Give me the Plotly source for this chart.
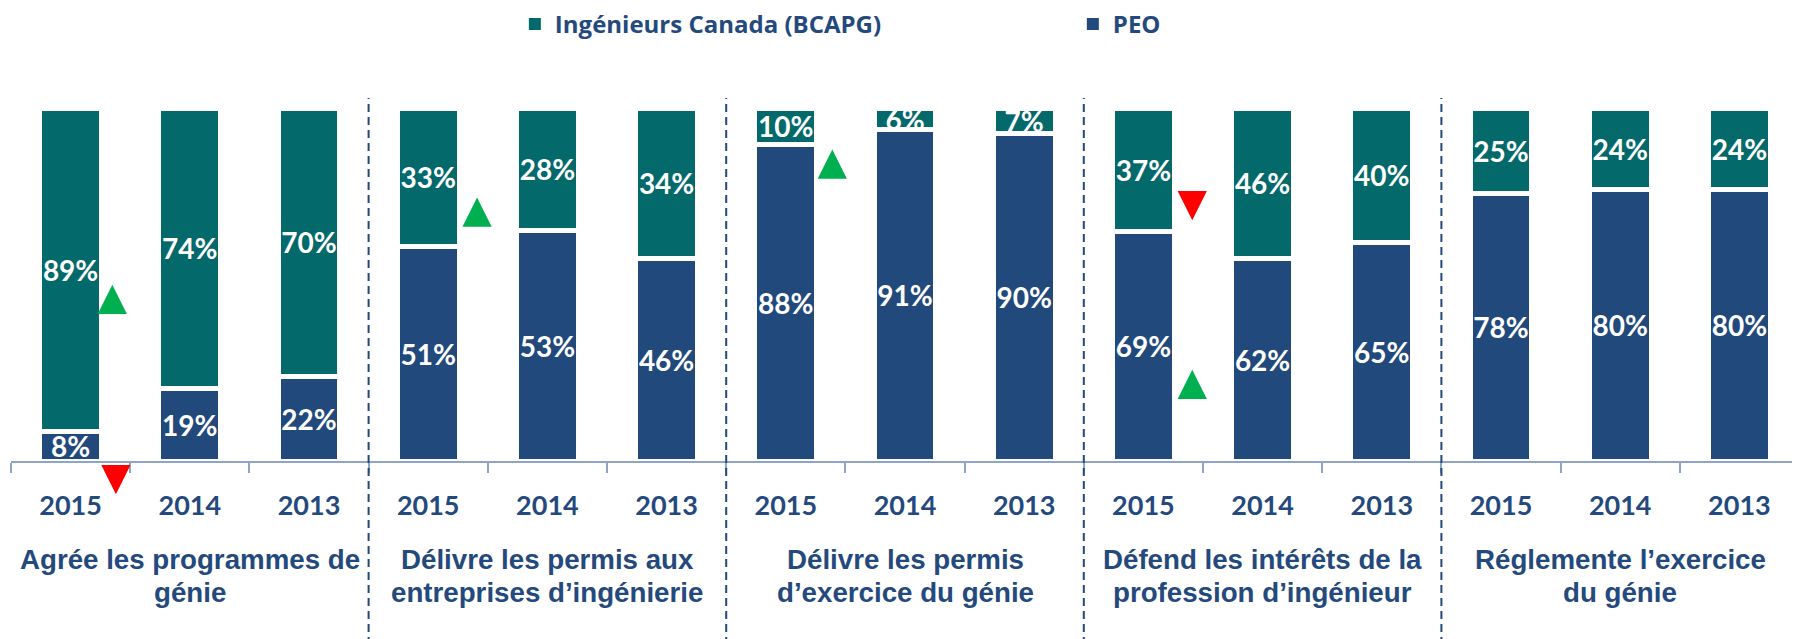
import plotly.graph_objects as go

# ---- data ----
years = ["2015", "2014", "2013"] * 5
groups = [
    ["Agrée les programmes de", "génie"],
    ["Délivre les permis aux", "entreprises d’ingénierie"],
    ["Délivre les permis", "d’exercice du génie"],
    ["Défend les intérêts de la", "profession d’ingénieur"],
    ["Réglemente l’exercice", "du génie"],
]
peo = [8, 19, 22, 51, 53, 46, 88, 91, 90, 69, 62, 65, 78, 80, 80]
ic = [89, 74, 70, 33, 28, 34, 10, 6, 7, 37, 46, 40, 25, 24, 24]

# change indicators (x in bar units, y in % of bar height)
trend_x = [0.35, 0.38, 3.41, 6.39, 9.41, 9.41]
trend_y = [45.6, -5.1, 70.3, 83.9, 72.5, 21.5]
trend_dir = ["up", "down", "up", "up", "down", "up"]

# ---- style ----
TEAL = "#03696A"
BLUE = "#21497B"
TXT = "#24497C"
AXIS = "#8EA5C7"
NUM_FONT = "Lato"
xs = list(range(len(years)))

series = [("PEO", peo, BLUE), ("Ingénieurs Canada (BCAPG)", ic, TEAL)]

fig = go.Figure()
for name, vals, col in series:
    fig.add_trace(go.Bar(
        x=xs, y=vals, name=name, showlegend=False,
        marker=dict(color=col, line=dict(color="white", width=5)),
        text=[f"{v}%" for v in vals],
        textposition="inside", insidetextanchor="middle", textangle=0,
        textfont=dict(family=NUM_FONT, size=28, color="white", weight="bold"),
        constraintext="none",
    ))
# legend entries (square swatches)
for name, vals, col in series:
    fig.add_trace(go.Scatter(x=[None], y=[None], mode="markers", name=name,
                             marker=dict(symbol="square", size=12, color=col)))

# page has an 8px body margin: figure is sized to fit the 1800x639 window
W, Hfig = 1792, 631
fig.update_layout(
    barmode="stack", barnorm="percent", bargap=0.48,
    width=W, height=Hfig,
    margin=dict(l=2.7, r=1, t=100, b=178, autoexpand=False),
    paper_bgcolor="white", plot_bgcolor="white",
    uniformtext=dict(minsize=28, mode="show"),
    showlegend=True,
    legend=dict(orientation="h", x=0.2818, xanchor="left", y=1 + 106 / 353, yanchor="top",
                traceorder="reversed", entrywidth=513, entrywidthmode="pixels",
                font=dict(family="Open Sans", size=24, color=TXT, weight="bold"),
                bgcolor="rgba(0,0,0,0)"),
    xaxis=dict(range=[-0.5, len(years) - 0.5], tickmode="array", tickvals=xs, ticktext=years,
               ticks="", showline=True, linecolor=AXIS, linewidth=2,
               tickfont=dict(family=NUM_FONT, size=27, color=TXT, weight="bold"),
               ticklabelstandoff=20,
               minor=dict(tickmode="array", tickvals=[i - 0.5 for i in range(len(years) + 1)],
                          ticks="outside", ticklen=10, tickwidth=2, tickcolor=AXIS, showgrid=False),
               showgrid=False, zeroline=False, fixedrange=True, automargin=False),
    yaxis=dict(range=[0, 100], visible=False, showgrid=False, zeroline=False),
)

H = 353.0
def paper_from_px(p):
    # p: page pixel row; plot area spans rows 108..461 of the page
    return (461 - p) / H

# dashed separators between groups
for g in range(1, len(groups)):
    fig.add_shape(type="line", xref="x", yref="paper", x0=3 * g - 0.5, x1=3 * g - 0.5,
                  y0=paper_from_px(645), y1=paper_from_px(98),
                  line=dict(color=BLUE, width=2, dash="8px,5px"))

# group labels
for g, (l1, l2) in enumerate(groups):
    for txt, p in [(l1, 559), (l2, 592)]:
        fig.add_annotation(x=3 * g + 1, xref="x", y=paper_from_px(p), yref="paper",
                           text=txt, showarrow=False, xanchor="center", yanchor="middle",
                           font=dict(family="Liberation Sans", size=27.7, color=TXT, weight="bold"))

# change triangles
for tx, ty, d in zip(trend_x, trend_y, trend_dir):
    if d == "up":
        path, col = "M-13,-13 L13,-13 L0,13 Z", "#00B050"
    else:
        path, col = "M-13,13 L13,13 L0,-13 Z", "#FF0000"
    fig.add_shape(type="path", xref="x", yref="paper", xsizemode="pixel", ysizemode="pixel",
                  xanchor=tx, yanchor=ty / 100.0, path=path,
                  fillcolor=col, line=dict(color=col, width=2))

fig.write_html("out.html")
